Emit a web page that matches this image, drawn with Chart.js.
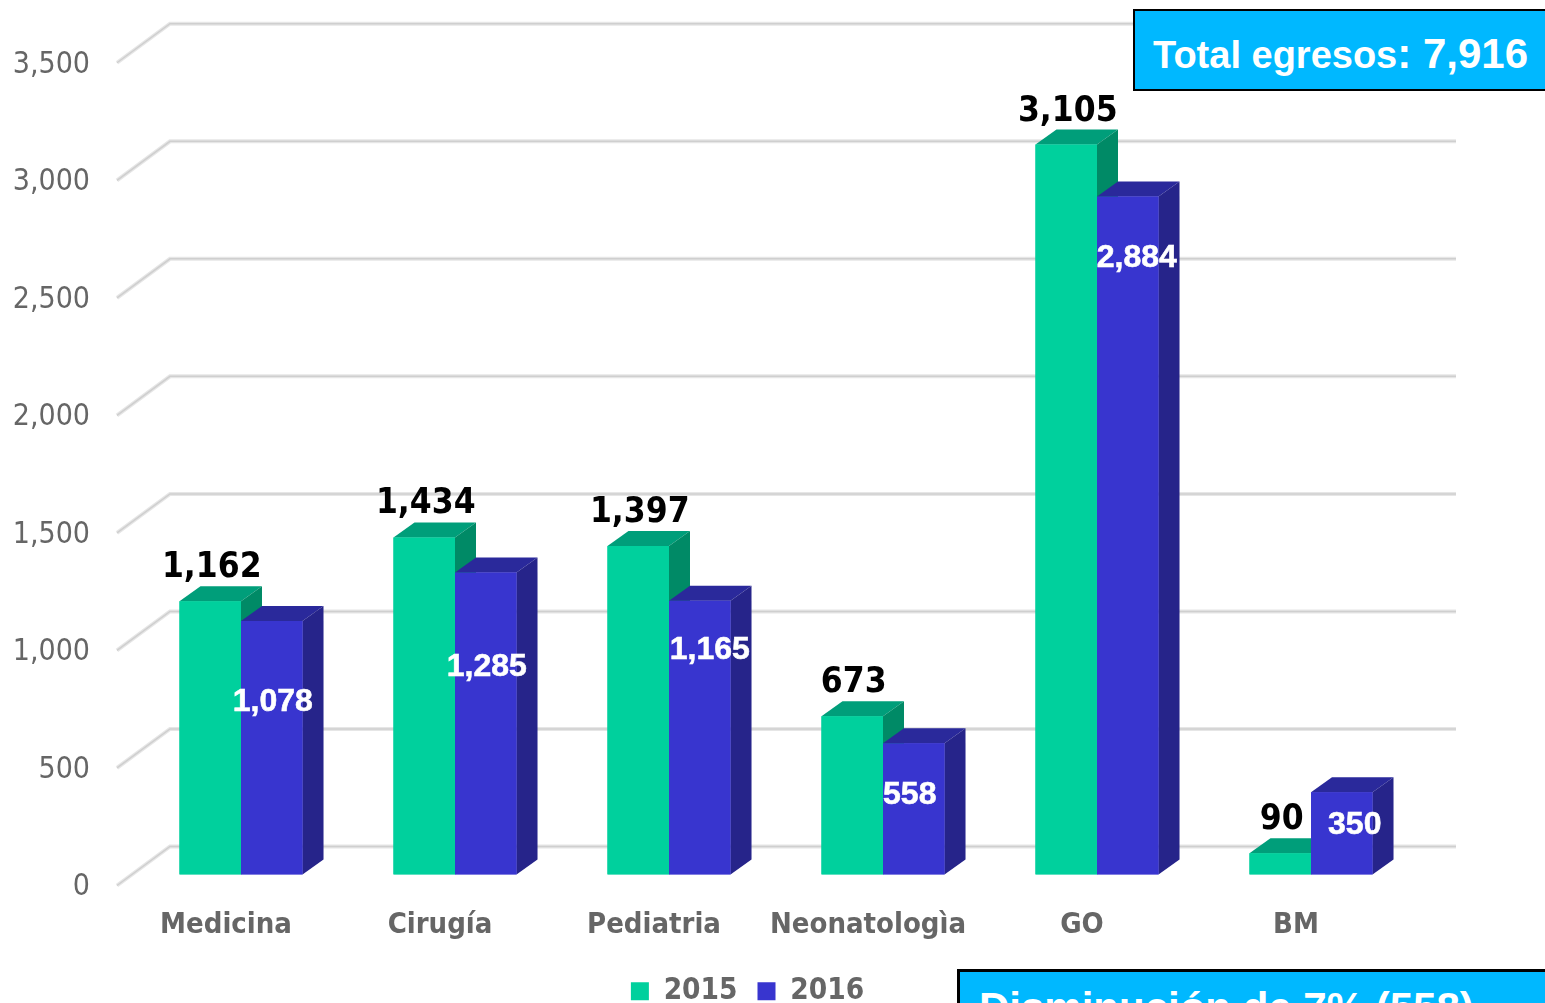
<!DOCTYPE html>
<html>
<head>
<meta charset="utf-8">
<title>Egresos</title>
<script src="https://cdn.jsdelivr.net/npm/chart.js@4/dist/chart.umd.min.js"></script>
<style>
	html, body { margin: 0; padding: 0; width: 1545px; height: 1003px; overflow: hidden; background: #fff; }
	canvas { position: absolute; left: 0; top: 0; }
	.box {
		position: absolute;
		box-sizing: border-box;
		background: #00b8ff;
		border: 2px solid #000;
		border-right: 0;
		color: #fff;
		font-family: "Liberation Sans", Arial, sans-serif;
		font-weight: bold;
		white-space: nowrap;
		overflow: hidden;
	}
	#total { left: 1133px; top: 9px; width: 412px; height: 82px; padding: 18px 0 0 18px; font-size: 38px; line-height: 50px; }
	#total span { font-size: 42px; }
	#down { left: 957px; top: 969px; width: 588px; height: 60px; padding: 12px 0 0 19px; font-size: 42px; line-height: 48px; border-width: 3px 0 0 3px; }
</style>
</head>
<body>
<canvas id="chartcanvas" width="1545" height="1003"></canvas>
<div class="box" id="total">Total egresos<span>: 7,916</span></div>
<div class="box" id="down">Disminución de 7% (558)</div>
<script>
"use strict";
var categories = ["Medicina", "Cirugía", "Pediatria", "Neonatologìa", "GO", "BM"];
var values2015 = [1162, 1434, 1397, 673, 3105, 90];
var values2016 = [1078, 1285, 1165, 558, 2884, 350];
var yTickValues = [0, 500, 1000, 1500, 2000, 2500, 3000, 3500];

// hand placed white labels, px from the top centre of each 2016 bar
var nudge2016X = [1, 1, 10, -4, 9, 13];
var nudge2016Y = [81, 95, 50, 52, 62, 33];

var depthX = 21;
var depthY = -15;

function poly(ctx, pts, color) {
	ctx.fillStyle = color;
	ctx.beginPath();
	ctx.moveTo(pts[0][0], pts[0][1]);
	for (var i = 1; i < pts.length; i++) {
		ctx.lineTo(pts[i][0], pts[i][1]);
	}
	ctx.closePath();
	ctx.fill();
}

// perspective grid behind the bars
var wallGrid = {
	id: "wallGrid",
	beforeDatasetsDraw: function(chart) {
		var ctx = chart.ctx;
		var y = chart.scales.y;
		ctx.save();
		y.ticks.forEach(function(tick) {
			var p = y.getPixelForValue(tick.value);
			var path = function() {
				ctx.beginPath();
				ctx.moveTo(117, p + 11);
				ctx.lineTo(170, p - 28);
				ctx.lineTo(1456, p - 28);
				ctx.stroke();
			};
			ctx.strokeStyle = "#e6e6e6";
			ctx.lineWidth = 4;
			path();
			ctx.strokeStyle = "#cfcfcf";
			ctx.lineWidth = 1.5;
			path();
		});
		ctx.restore();
	}
};

// top and side faces, then the front again so 2016 sits over 2015
var bars3d = {
	id: "bars3d",
	afterDatasetsDraw: function(chart) {
		var ctx = chart.ctx;
		chart.data.datasets.forEach(function(ds, d) {
			var meta = chart.getDatasetMeta(d);
			meta.data.forEach(function(bar) {
				var half = bar.width / 2;
				var l = bar.x - half;
				var r = bar.x + half;
				poly(ctx, [[l, bar.y], [l + depthX, bar.y + depthY], [r + depthX, bar.y + depthY], [r, bar.y]], ds.topColor);
				poly(ctx, [[r, bar.y], [r + depthX, bar.y + depthY], [r + depthX, bar.base + depthY], [r, bar.base]], ds.sideColor);
				bar.draw(ctx);
			});
		});
		// data labels
		ctx.save();
		ctx.textAlign = "center";
		ctx.textBaseline = "middle";
		ctx.fillStyle = "#000";
		ctx.font = "bold 35px 'DejaVu Sans Condensed', 'DejaVu Sans', sans-serif";
		chart.getDatasetMeta(0).data.forEach(function(bar, i) {
			ctx.fillText(values2015[i].toLocaleString("en-US"), bar.x + 1.5, bar.y - 33);
		});
		ctx.fillStyle = "#fff";
		ctx.strokeStyle = "#fff";
		ctx.lineWidth = 0.6;
		ctx.font = "bold 32px 'Liberation Sans', Arial, sans-serif";
		chart.getDatasetMeta(1).data.forEach(function(bar, i) {
			var txt = values2016[i].toLocaleString("en-US");
			ctx.fillText(txt, bar.x + nudge2016X[i], bar.y + nudge2016Y[i]);
			ctx.strokeText(txt, bar.x + nudge2016X[i], bar.y + nudge2016Y[i]);
		});
		ctx.restore();
	}
};

var ctx = document.getElementById("chartcanvas");
var chart = new Chart(ctx, {
	type: "bar",
	data: {
		labels: categories,
		datasets: [
			{
				label: "2015",
				data: values2015,
				backgroundColor: "#00d09d",
				topColor: "#009e7a",
				sideColor: "#008a66",
				categoryPercentage: 0.575,
				barPercentage: 1
			},
			{
				label: "2016",
				data: values2016,
				backgroundColor: "#3835cf",
				topColor: "#2a299b",
				sideColor: "#26248a",
				categoryPercentage: 0.575,
				barPercentage: 1
			}
		]
	},
	options: {
		responsive: false,
		animation: false,
		// negative bottom pushes the legend down to the window edge
		layout: { padding: { left: 0, right: 50, top: 0, bottom: -13 } },
		plugins: {
			legend: {
				position: "bottom",
				labels: {
					boxWidth: 18,
					boxHeight: 18,
					padding: 20,
					color: "#666",
					font: { family: "'DejaVu Sans Condensed', 'DejaVu Sans', sans-serif", size: 29.5, weight: "bold" }
				}
			},
			tooltip: { enabled: false }
		},
		scales: {
			x: {
				grid: { display: false },
				border: { display: false },
				ticks: {
					labelOffset: -15,
					padding: 26,
					maxRotation: 0,
					autoSkip: false,
					color: "#666",
					font: { family: "'DejaVu Sans Condensed', 'DejaVu Sans', sans-serif", size: 29, weight: "bold" }
				},
				afterFit: function(scale) { scale.height = 82; }
			},
			y: {
				min: 0,
				max: 3618,
				// tickLength only pushes the labels left, the marks stay hidden
				grid: { display: false, drawTicks: true, tickLength: 38 },
				border: { display: false },
				afterBuildTicks: function(scale) {
					scale.ticks = yTickValues.map(function(v) { return { value: v }; });
				},
				ticks: {
					labelOffset: 13,
					padding: 6,
					color: "#666",
					font: { family: "'DejaVu Sans Condensed', 'DejaVu Sans', sans-serif", size: 30 },
					callback: function(v) { return v.toLocaleString("en-US"); }
				},
				afterFit: function(scale) { scale.width = 134; }
			},
			// only here to hold the plot's right edge
			spare: {
				position: "right",
				grid: { display: false },
				border: { display: false },
				ticks: { display: false },
				afterFit: function(scale) { scale.width = 77; }
			}
		}
	},
	plugins: [wallGrid, bars3d]
});
</script>
</body>
</html>
